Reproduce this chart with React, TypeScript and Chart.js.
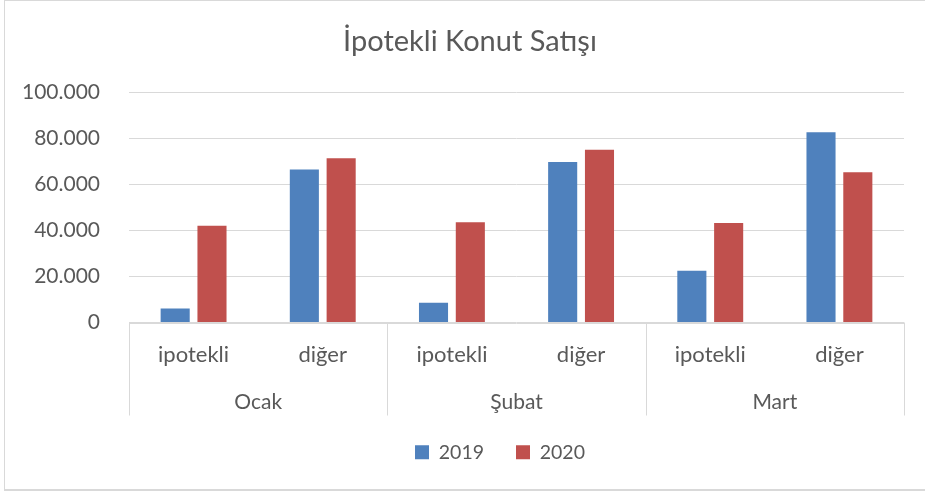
import React, { useEffect, useRef } from "react";
import { Chart, registerables } from "chart.js";

Chart.register(...registerables);

const title = "İpotekli Konut Satışı";
const subCategories = ["ipotekli", "diğer", "ipotekli", "diğer", "ipotekli", "diğer"];
const groups = ["Ocak", "Şubat", "Mart"];
const seriesNames = ["2019", "2020"];
const values2019 = [6100, 66400, 8600, 69600, 22500, 82500];
const values2020 = [42000, 71300, 43500, 74900, 43200, 65200];
const yMax = 100000;
const yStep = 20000;

const TEXT = "#595959";
const GRID = "#d9d9d9";
const FONT = "Lato";

const categoryAxisPlugin = {
  id: "categoryAxis",
  afterDraw(chart: any) {
    const { ctx, chartArea } = chart;
    const x = chart.scales.x;
    const n = subCategories.length;
    const px = (i: number) => x.getPixelForValue(i);
    const half = n > 1 ? (px(1) - px(0)) / 2 : 0;
    const bottom = chartArea.bottom;
    ctx.save();
    ctx.strokeStyle = GRID;
    ctx.lineWidth = 1;
    ctx.beginPath();
    ctx.moveTo(chartArea.left, Math.round(bottom) + 0.5);
    ctx.lineTo(chartArea.right, Math.round(bottom) + 0.5);
    ctx.stroke();
    ctx.fillStyle = TEXT;
    ctx.textAlign = "center";
    ctx.textBaseline = "alphabetic";
    ctx.font = `22px "${FONT}"`;
    subCategories.forEach((s, i) => {
      ctx.fillText(s, px(i), bottom + 39);
    });
    const per = n / groups.length;
    ctx.font = `21px "${FONT}"`;
    for (let g = 0; g <= groups.length; g++) {
      const idx = g * per;
      const bx = Math.round(px(Math.min(idx, n - 1)) + (idx >= n ? half : -half)) + 0.5;
      ctx.beginPath();
      ctx.moveTo(bx, bottom);
      ctx.lineTo(bx, bottom + 93);
      ctx.stroke();
    }
    groups.forEach((gname, g) => {
      const a = px(g * per);
      const b = px(g * per + per - 1);
      ctx.fillText(gname, (a + b) / 2, bottom + 86);
    });
    ctx.restore();
  },
};

const titlePlugin = {
  id: "customTitle",
  afterDraw(chart: any) {
    const { ctx } = chart;
    ctx.save();
    ctx.fillStyle = TEXT;
    ctx.font = `29px "${FONT}"`;
    ctx.textAlign = "center";
    ctx.textBaseline = "alphabetic";
    ctx.fillText(title, 470, 51);
    ctx.restore();
  },
};

// shift the legend block so it is centred like the original (Excel) legend
const legendShiftPlugin = {
  id: "legendShift",
  afterLayout(chart: any) {
    if (chart.legend) {
      chart.legend.left += 96;
    }
  },
};

export default function App() {
  const ref = useRef<HTMLCanvasElement>(null);
  useEffect(() => {
    if (!ref.current) return;
    const chart = new Chart(ref.current, {
      type: "bar",
      data: {
        labels: subCategories,
        datasets: [
          {
            label: seriesNames[0],
            data: values2019,
            backgroundColor: "#4f81bd",
            borderWidth: 0,
            categoryPercentage: 0.57,
            barPercentage: 0.79,
          },
          {
            label: seriesNames[1],
            data: values2020,
            backgroundColor: "#c0504d",
            borderWidth: 0,
            categoryPercentage: 0.57,
            barPercentage: 0.79,
          },
        ],
      },
      options: {
        responsive: false,
        animation: false,
        devicePixelRatio: 1,
        layout: { padding: { left: 0, right: 21, top: 92, bottom: 21 } },
        plugins: {
          title: { display: false },
          tooltip: { enabled: false },
          legend: {
            display: true,
            position: "bottom",
            labels: {
              boxWidth: 14,
              boxHeight: 14,
              padding: 32,
              color: TEXT,
              font: { family: FONT, size: 19.5 },
            },
          },
        },
        scales: {
          x: {
            grid: { display: false },
            border: { display: false },
            ticks: { display: false },
            afterFit: (s: any) => {
              s.height = 88;
            },
          },
          y: {
            min: 0,
            max: yMax,
            grid: { color: GRID, lineWidth: 1, drawTicks: false },
            border: { display: false },
            ticks: {
              stepSize: yStep,
              padding: 29,
              color: TEXT,
              font: { family: FONT, size: 21 },
              callback: (v: any) => Number(v).toLocaleString("de-DE"),
            },
            afterFit: (s: any) => {
              s.width = 129;
            },
          },
        },
      },
      plugins: [categoryAxisPlugin, titlePlugin, legendShiftPlugin],
    });
    return () => chart.destroy();
  }, []);
  return (
    <div style={{ position: "absolute", left: 0, top: 0, width: 925, height: 493, overflow: "hidden", background: "#fff" }}>
      <div
        style={{
          position: "absolute",
          left: 4,
          top: 0,
          width: 921,
          height: 491,
          boxSizing: "border-box",
          borderTop: "1px solid #d9d9d9",
          borderLeft: "1px solid #d9d9d9",
          borderBottom: "2px solid #d9d9d9",
        }}
      />
      <canvas ref={ref} width={925} height={493} style={{ position: "absolute", left: 0, top: 0, width: 925, height: 493 }} />
    </div>
  );
}
